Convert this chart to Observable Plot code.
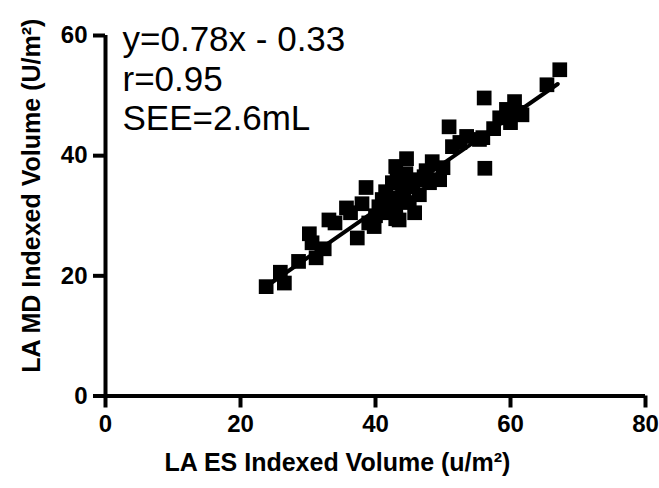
<!DOCTYPE html>
<html>
<head>
<meta charset="utf-8">
<script src="https://cdn.jsdelivr.net/npm/d3@7"></script>
<script src="https://cdn.jsdelivr.net/npm/@observablehq/plot@0.6"></script>
<style>
  html, body { margin: 0; padding: 0; background: #fff; }
  #chart svg { display: block; }
</style>
</head>
<body>
<div id="chart"></div>
<script>
// LA ES indexed volume (x) and LA MD indexed volume (y)
const esVolume = [23.8, 26.5, 25.9, 28.6, 31.2, 30.2, 30.6, 32.4, 33.1, 34.0,
  35.7, 36.3, 37.3, 38.6, 38.0, 39.0, 39.8, 40.0, 40.5, 41.0,
  41.5, 42.0, 42.2, 42.5, 43.0, 43.5, 43.0, 43.2, 43.0, 44.0,
  44.2, 44.6, 44.5, 45.0, 45.0, 45.5, 45.8, 46.0, 46.5, 47.2,
  47.5, 48.4, 48.0, 49.5, 50.0, 50.9, 51.4, 52.5, 53.5, 55.4,
  55.9, 56.1, 56.2, 57.5, 58.4, 59.4, 60.6, 61.4, 61.7, 60.0,
  65.4, 67.3];
const mdVolume = [18.2, 18.8, 20.6, 22.4, 23.0, 27.0, 25.5, 24.5, 29.3, 28.8,
  31.3, 30.5, 26.3, 34.7, 32.0, 28.8, 28.2, 30.0, 31.5, 32.7,
  34.0, 30.5, 33.0, 35.5, 29.5, 29.3, 31.5, 36.5, 38.2, 34.3,
  32.5, 39.5, 37.0, 32.2, 35.0, 34.8, 30.5, 36.0, 33.5, 36.5,
  37.5, 39.0, 35.5, 36.0, 38.0, 44.8, 41.5, 42.2, 43.2, 42.7,
  43.0, 49.6, 37.9, 44.5, 46.3, 47.7, 49.0, 47.2, 46.8, 45.5,
  51.8, 54.3];
const xTicks = [0, 20, 40, 60, 80];
const yTicks = [0, 20, 40, 60];
const fitSlope = 0.78;
const fitIntercept = -0.33;
const fitRange = [24, 67];
const statLines = ["y=0.78x - 0.33", "r=0.95", "SEE=2.6mL"];
const xTitle = "LA ES Indexed Volume (u/m²)";
const yTitle = "LA MD Indexed Volume (U/m²)";

const points = esVolume.map((x, i) => ({x, y: mdVolume[i]}));
const fitLine = fitRange.map(x => ({x, y: fitSlope * x + fitIntercept}));

const font = "'Liberation Sans', Arial, Helvetica, sans-serif";
const tickLen = 12;

const chart = Plot.plot({
  width: 659,
  height: 488,
  marginLeft: 105,
  marginRight: 14,
  marginTop: 35,
  marginBottom: 92.5,
  style: {fontFamily: font, background: "#fff", color: "#000", overflow: "visible"},
  x: {domain: [0, 80]},
  y: {domain: [0, 60]},
  marks: [
    Plot.axisX({ticks: xTicks, tickSize: 0, tickPadding: tickLen + 7, fontSize: 24, fontWeight: "bold", label: null}),
    Plot.axisY({ticks: yTicks, tickSize: 0, tickPadding: tickLen + 6, fontSize: 24, fontWeight: "bold", label: null}),
    // heavy outward tick marks
    Plot.ruleX(xTicks, {x: d => d, y1: 0, y2: 0, insetBottom: -tickLen, stroke: "#000", strokeWidth: 4}),
    Plot.ruleY(yTicks, {y: d => d, x1: 0, x2: 0, insetLeft: -tickLen, stroke: "#000", strokeWidth: 4}),
    Plot.ruleY([0], {stroke: "#000", strokeWidth: 4}),
    Plot.ruleX([0], {stroke: "#000", strokeWidth: 4}),
    Plot.dot(points, {x: "x", y: "y", symbol: "square", r: 8.3, fill: "#000", stroke: "none"}),
    Plot.line(fitLine, {x: "x", y: "y", stroke: "#000", strokeWidth: 4}),
    Plot.text([statLines.join("\n")], {frameAnchor: "top-left", textAnchor: "start", lineAnchor: "top", dx: 17, dy: -12, fontSize: 35, lineHeight: 1.12, fill: "#000"}),
    Plot.text([xTitle], {frameAnchor: "bottom", dx: -38, dy: 75, fontSize: 25, fontWeight: "bold", fill: "#000"}),
    Plot.text([yTitle], {frameAnchor: "left", textAnchor: "middle", rotate: -90, dx: -74, dy: -20, fontSize: 25, fontWeight: "bold", fill: "#000"})
  ]
});
document.getElementById("chart").appendChild(chart);
</script>
</body>
</html>
